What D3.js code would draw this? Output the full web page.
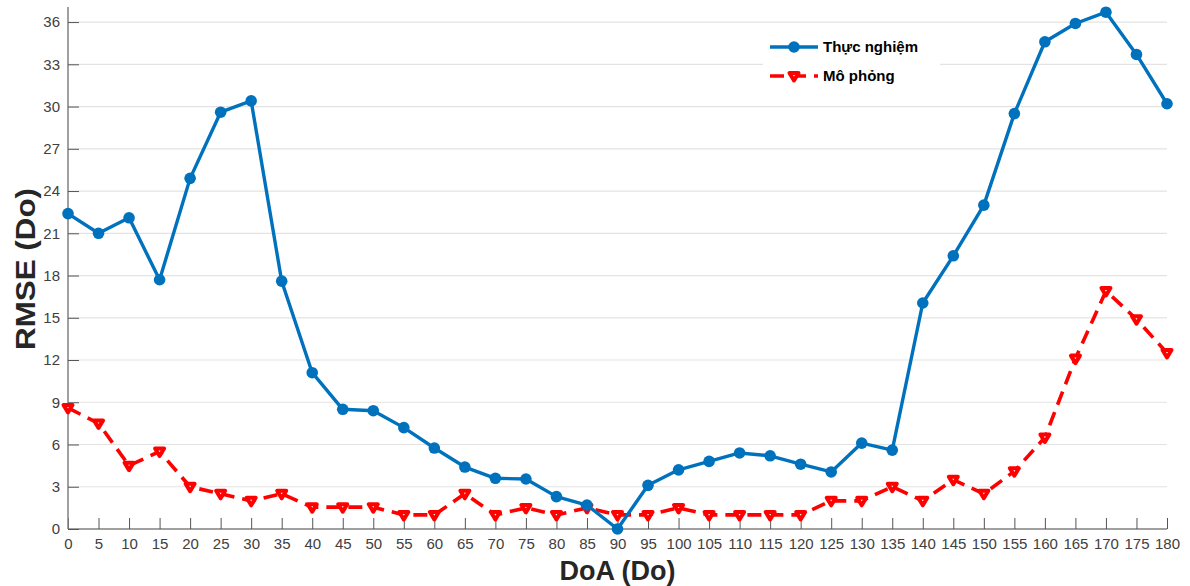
<!DOCTYPE html>
<html><head><meta charset="utf-8">
<script src="https://cdn.jsdelivr.net/npm/d3@7/dist/d3.min.js"></script>
<style>
body{margin:0;background:#fff;}
text{font-family:"Liberation Sans",Arial,sans-serif;}
</style></head>
<body><svg id="c" width="1190" height="586"></svg>
<script>
const doa = d3.range(0, 181, 5);
const thucNghiem = [22.4,21.0,22.1,17.7,24.9,29.6,30.4,17.6,11.1,8.5,8.4,7.2,5.75,4.4,3.6,3.55,2.3,1.7,0,3.1,4.2,4.8,5.4,5.2,4.6,4.05,6.1,5.6,16.05,19.4,23.0,29.5,34.6,35.9,36.7,33.7,30.2];
const moPhong = [8.6,7.5,4.5,5.5,3.0,2.5,2.0,2.5,1.55,1.55,1.55,1.0,1.0,2.5,1.0,1.5,1.0,1.5,1.0,1.0,1.5,1.0,1.0,1.0,1.0,2.0,2.0,3.0,2.0,3.5,2.5,4.1,6.5,12.1,16.9,14.9,12.5];
const yTicks = d3.range(0, 37, 3);
const seriesNames = ["Thực nghiệm", "Mô phỏng"];
const xLabel = "DoA (Do)", yLabel = "RMSE (Do)";

const svg = d3.select("#c");
const L = 68, R = 1167, T = 7, B = 529;
const x = d3.scaleLinear().domain([0, 180]).range([L, R]);
const y = d3.scaleLinear().domain([0, 37.07]).range([B, T]);

// grid
svg.append("g").selectAll("line").data(yTicks.filter(d=>d>0)).join("line")
  .attr("x1", L).attr("x2", R).attr("y1", d=>y(d)).attr("y2", d=>y(d))
  .attr("stroke", "#e3e3e3").attr("stroke-width", 1.2);

// axes
const gx = svg.append("g").attr("transform", `translate(0,${B})`)
  .call(d3.axisBottom(x).tickValues(doa).tickSize(-11).tickPadding(9).tickFormat(d3.format("d")));
const gy = svg.append("g").attr("transform", `translate(${L},0)`)
  .call(d3.axisLeft(y).tickValues(yTicks).tickSize(-11).tickPadding(8).tickFormat(d3.format("d")));
[gx, gy].forEach(g => {
  g.select(".domain").attr("stroke", "#808080").attr("stroke-width", 1.5);
  g.selectAll(".tick line").attr("stroke", "#555").attr("stroke-width", 1);
  g.selectAll(".tick text").attr("fill", "#404040").style("font-size", "15px")
    .style("font-family", '"Liberation Sans",Arial,sans-serif');
});
gy.select(".domain").attr("d", `M0,${T}V${B}`);
gx.select(".domain").attr("d", `M${L},0H${R}`);
gx.selectAll(".tick text").attr("dy", "0.75em");

// labels
svg.append("text").attr("x", (L+R)/2).attr("y", 580).attr("text-anchor", "middle")
  .style("font-size", "27px").style("font-weight", "bold").attr("fill", "#262626").text(xLabel);
svg.append("text").attr("transform", `translate(35,269) rotate(-90)`).attr("text-anchor", "middle")
  .attr("textLength", 162).attr("lengthAdjust", "spacingAndGlyphs")
  .style("font-size", "27px").style("font-weight", "bold").attr("fill", "#262626").text(yLabel);

const line = d3.line().x((d,i)=>x(doa[i])).y(d=>y(d));
const blue = "#0072BD", red = "#FF0000";
const tri = "M-4.5,-3L4.5,-3L0,4.5Z";

// red series
svg.append("path").datum(moPhong).attr("d", line).attr("fill", "none")
  .attr("stroke", red).attr("stroke-width", 3.6).attr("stroke-dasharray", "14,8");
svg.append("g").selectAll("path").data(moPhong).join("path")
  .attr("transform", (d,i)=>`translate(${x(doa[i])},${y(d)})`).attr("d", tri)
  .attr("fill", "#fff").attr("stroke", red).attr("stroke-width", 4).attr("stroke-linejoin", "round");

// blue series
svg.append("path").datum(thucNghiem).attr("d", line).attr("fill", "none")
  .attr("stroke", blue).attr("stroke-width", 3.4).attr("stroke-linejoin", "round");
svg.append("g").selectAll("circle").data(thucNghiem).join("circle")
  .attr("cx", (d,i)=>x(doa[i])).attr("cy", d=>y(d)).attr("r", 5.8).attr("fill", blue);

// legend
const lg = svg.append("g");
lg.append("rect").attr("x", 763).attr("y", 30).attr("width", 177).attr("height", 62).attr("fill", "#fff");
const items = [{c: blue, dash: null, yy: 47}, {c: red, dash: "14,8", yy: 76}];
items.forEach((it, i) => {
  lg.append("line").attr("x1", 770).attr("x2", 818).attr("y1", it.yy).attr("y2", it.yy)
    .attr("stroke", it.c).attr("stroke-width", i ? 3.6 : 3.4).attr("stroke-dasharray", it.dash);
  if (i === 0) lg.append("circle").attr("cx", 794).attr("cy", it.yy).attr("r", 5.8).attr("fill", blue);
  else lg.append("path").attr("transform", `translate(794,${it.yy})`).attr("d", tri)
    .attr("fill", "#fff").attr("stroke", red).attr("stroke-width", 4).attr("stroke-linejoin", "round");
  lg.append("text").attr("x", 823).attr("y", it.yy + 5).style("font-size", "15px")
    .style("font-weight", "bold").attr("fill", "#000").text(seriesNames[i]);
});
</script></body></html>
